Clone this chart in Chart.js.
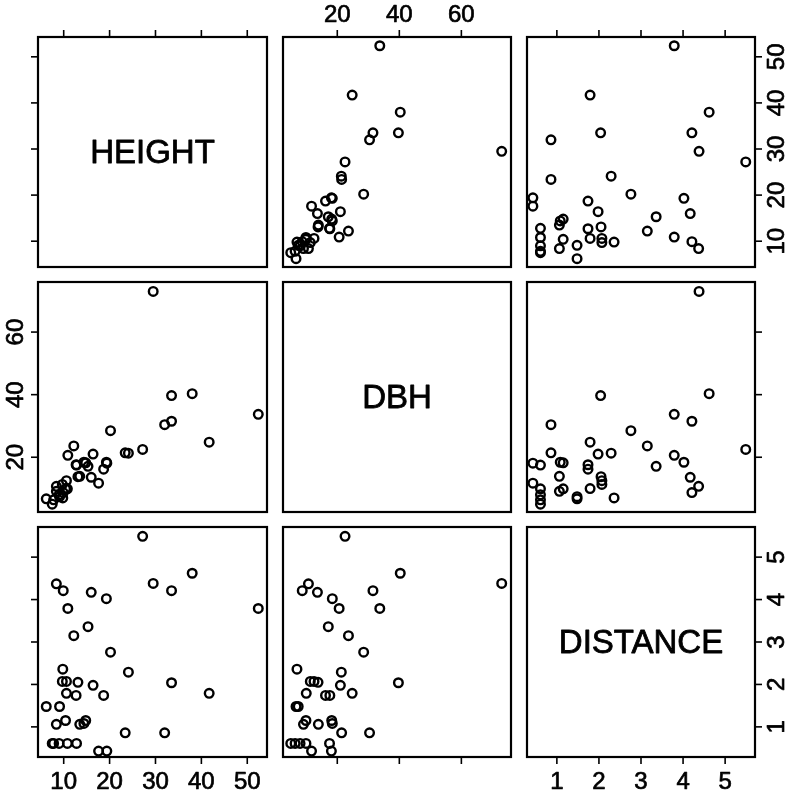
<!DOCTYPE html>
<html>
<head>
<meta charset="utf-8">
<script src="https://cdn.jsdelivr.net/npm/chart.js@4.4.1/dist/chart.umd.min.js"></script>
<style>
  body { margin: 0; background: #fff; }
  #wrap { position: relative; width: 792px; height: 799px; }
  canvas { position: absolute; left: 0; top: 0; }
</style>
</head>
<body>
<div id="wrap"></div>
<script>
const names = ["HEIGHT", "DBH", "DISTANCE"];

const height = [52.4, 41.7, 38.0, 32.0, 33.5, 33.5, 29.5, 27.2, 23.4, 24.1,
  19.4, 17.6, 20.2, 18.7, 19.3, 16.4, 16.0, 15.3, 14.8, 14.4,
  13.5, 12.8, 10.8, 9.0, 7.8, 7.5, 12.7, 13.1, 12.2, 10.6,
  10.6, 9.7, 10.4, 8.4, 9.1, 6.2, 9.8, 10.9, 9.9, 8.4];
const dbh = [33.7, 24.8, 40.3, 30.4, 39.7, 31.5, 73.0, 22.5, 21.4, 21.3,
  18.1, 11.7, 28.5, 16.2, 18.4, 21.0, 13.6, 17.1, 18.2, 18.4,
  13.9, 17.5, 9.9, 8.0, 6.4, 5.0, 17.6, 13.8, 23.6, 10.0,
  12.5, 11.3, 9.9, 9.1, 7.4, 6.7, 7.0, 20.6, 8.7, 10.7];
const distance = [3.79, 1.79, 4.62, 0.86, 2.04, 4.21, 4.38, 5.49, 0.86, 2.29,
  0.43, 0.43, 2.76, 1.74, 4.02, 1.98, 4.17, 3.36, 1.15, 1.08,
  1.06, 0.61, 0.61, 0.61, 0.61, 0.61, 1.74, 2.05, 3.15, 1.79,
  2.07, 2.07, 1.15, 1.06, 1.48, 1.48, 2.36, 3.79, 4.21, 4.37];

const heightTicks = [10, 20, 30, 40, 50];
const dbhTicks = [20, 40, 60];
const distanceTicks = [1, 2, 3, 4, 5];

const vars = [height, dbh, distance];
const ticks = [heightTicks, dbhTicks, distanceTicks];
const ranges = [[4.4, 54.3], [2.5, 76], [0.29, 5.71]];

// panel boxes in page pixels
const colLeft = [38, 283, 527], colRight = [267, 511, 755];
const rowTop = [37, 282, 527], rowBottom = [267, 512, 757];

const W = 792, H = 799;
const tickFont = "24px 'Liberation Sans', Arial, sans-serif";
const labelFont = "33px 'Liberation Sans', Arial, sans-serif";

// text a little heavier, like the printed original
function inkText(ctx, s, x, y, w) {
  ctx.lineWidth = w;
  ctx.strokeText(s, x, y);
  ctx.fillText(s, x, y);
}

const panelFrame = {
  id: "panelFrame",
  afterDraw(chart, args, o) {
    const { ctx, chartArea: { left, top, right, bottom }, scales: { x, y } } = chart;
    ctx.save();
    ctx.strokeStyle = "#000";
    ctx.fillStyle = "#000";
    ctx.lineWidth = 2.2;
    ctx.strokeRect(left, top, right - left, bottom - top);

    ctx.font = tickFont;
    ctx.textAlign = "center";
    ctx.textBaseline = "middle";
    ctx.lineJoin = "round";
    const tl = 7, off = 22;
    const seg = (x1, y1, x2, y2) => { ctx.lineWidth = 1.6; ctx.beginPath(); ctx.moveTo(x1, y1); ctx.lineTo(x2, y2); ctx.stroke(); };

    if (o.top) o.xTicks.forEach(v => {
      const px = x.getPixelForValue(v);
      seg(px, top, px, top - tl);
      if (o.top === "label") inkText(ctx, String(v), px, top - off, 0.7);
    });
    if (o.bottom) o.xTicks.forEach(v => {
      const px = x.getPixelForValue(v);
      seg(px, bottom, px, bottom + tl);
      if (o.bottom === "label") inkText(ctx, String(v), px, bottom + off + 3, 0.7);
    });
    if (o.left) o.yTicks.forEach(v => {
      const py = y.getPixelForValue(v);
      seg(left, py, left - tl, py);
      if (o.left === "label") {
        ctx.save(); ctx.translate(left - off, py); ctx.rotate(-Math.PI / 2);
        inkText(ctx, String(v), 0, 0, 0.7); ctx.restore();
      }
    });
    if (o.right) o.yTicks.forEach(v => {
      const py = y.getPixelForValue(v);
      seg(right, py, right + tl, py);
      if (o.right === "label") {
        ctx.save(); ctx.translate(right + off, py); ctx.rotate(-Math.PI / 2);
        inkText(ctx, String(v), 0, 0, 0.7); ctx.restore();
      }
    });
    if (o.title) {
      ctx.font = labelFont;
      inkText(ctx, o.title, (left + right) / 2, (top + bottom) / 2 + 2, 0.8);
    }
    ctx.restore();
  }
};

const wrap = document.getElementById("wrap");
for (let i = 0; i < 3; i++) {
  for (let j = 0; j < 3; j++) {
    const cv = document.createElement("canvas");
    cv.width = W; cv.height = H;
    wrap.appendChild(cv);

    const pts = i === j ? [] : vars[j].map((v, k) => ({ x: v, y: vars[i][k] }));
    const frame = {
      xTicks: ticks[j], yTicks: ticks[i],
      top: i === 0 ? (j === 1 ? "label" : "tick") : null,
      bottom: i === 2 ? (j === 1 ? "tick" : "label") : null,
      left: j === 0 ? (i === 1 ? "label" : "tick") : null,
      right: j === 2 ? (i === 1 ? "tick" : "label") : null,
      title: i === j ? names[i] : null
    };

    new Chart(cv.getContext("2d"), {
      type: "scatter",
      data: {
        datasets: [{
          data: pts,
          pointStyle: "circle",
          pointRadius: 4.3,
          pointBorderWidth: 2.4,
          borderColor: "#000",
          backgroundColor: "rgba(0,0,0,0)"
        }]
      },
      options: {
        responsive: false,
        animation: false,
        events: [],
        layout: {
          padding: { left: colLeft[j], right: W - colRight[j], top: rowTop[i], bottom: H - rowBottom[i] }
        },
        scales: {
          x: { type: "linear", min: ranges[j][0], max: ranges[j][1], display: false },
          y: { type: "linear", min: ranges[i][0], max: ranges[i][1], display: false }
        },
        plugins: { legend: { display: false }, tooltip: { enabled: false }, panelFrame: frame }
      },
      plugins: [panelFrame]
    });
  }
}
</script>
</body>
</html>
